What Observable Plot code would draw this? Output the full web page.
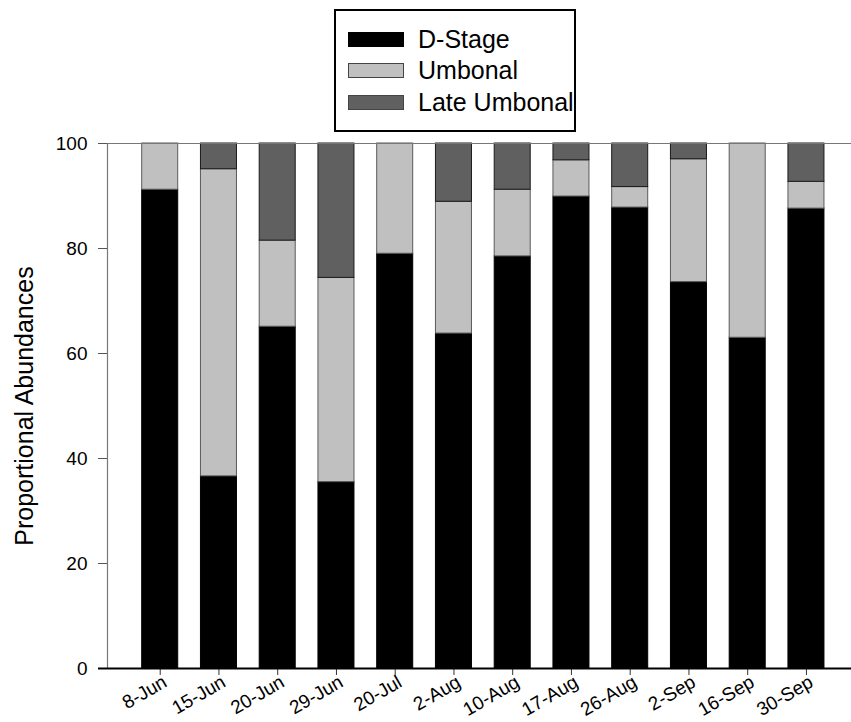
<!DOCTYPE html>
<html>
<head>
<meta charset="utf-8">
<script src="https://cdn.jsdelivr.net/npm/d3@7"></script>
<script src="https://cdn.jsdelivr.net/npm/@observablehq/plot@0.6"></script>
<style>
  html, body { margin: 0; padding: 0; background: white; }
  #wrap { position: relative; width: 851px; height: 722px; font-family: "Liberation Sans", Arial, sans-serif; }
  #legend { position: absolute; left: 334px; top: 9px; width: 238px; height: 119px; border: 2px solid black; background: white; }
  .row { position: absolute; left: 12px; height: 16px; display: flex; align-items: center; }
  .sw { width: 56px; height: 15px; box-sizing: border-box; }
  .lab { margin-left: 14px; font-size: 25px; line-height: 16px; color: black; white-space: nowrap; }
</style>
</head>
<body>
<div id="wrap"></div>
<script>
const dates = ["8-Jun","15-Jun","20-Jun","29-Jun","20-Jul","2-Aug","10-Aug","17-Aug","26-Aug","2-Sep","16-Sep","30-Sep"];
const series = ["D-Stage", "Umbonal", "Late Umbonal"];
const dStage      = [91.2, 36.6, 65.1, 35.5, 79.0, 63.8, 78.5, 89.9, 87.8, 73.6, 63.0, 87.6];
const umbonal     = [ 8.8, 58.5, 16.4, 38.9, 21.0, 25.1, 12.7,  6.9,  3.9, 23.4, 37.0,  5.1];
const lateUmbonal = [ 0.0,  4.9, 18.5, 25.6,  0.0, 11.1,  8.8,  3.2,  8.3,  3.0,  0.0,  7.3];
const yTicks = [0, 20, 40, 60, 80, 100];
const yLabel = "Proportional Abundances";

const fills = ["#000000", "#c0c0c0", "#606060"];
const strokes = ["#000000", "#5a5a5a", "#1a1a1a"];

const values = [dStage, umbonal, lateUmbonal];
// build stacked rows
const rows = series.map((s, si) => dates.map((d, i) => {
  let base = 0;
  for (let k = 0; k < si; k++) base += values[k][i];
  return {date: d, series: s, y1: base, y2: base + values[si][i]};
}).filter(r => r.y2 - r.y1 > 0));

const chart = Plot.plot({
  width: 851,
  height: 722,
  marginTop: 143,
  marginBottom: 54,
  marginLeft: 107,
  marginRight: 0,
  style: {fontFamily: "'Liberation Sans', Arial, sans-serif", fontSize: "18px", color: "black", background: "white"},
  x: {domain: dates, paddingInner: 0.387, paddingOuter: 0.5255, align: 0.562, round: false, label: null},
  y: {domain: [0, 100], label: null},
  marks: [
    ...rows.map((r, si) => Plot.barY(r, {x: "date", y1: "y1", y2: "y2", fill: fills[si], stroke: strokes[si], strokeWidth: 1})),
    Plot.ruleY([100], {stroke: "#777", strokeWidth: 1.2}),
    Plot.frame({anchor: "left", stroke: "#777", strokeWidth: 1.2}),
    Plot.axisY({ticks: yTicks, tickSize: 9, tickPadding: 11, stroke: "#555", fontSize: 19, label: null}),
    Plot.axisX({tickSize: 7, text: null, stroke: "#333", label: null}),
    Plot.axisX({tickSize: 0, tickPadding: 12, tickRotate: -30, dx: 5, dy: 0, fontSize: 19, label: null}),
    Plot.ruleY([0], {stroke: "black", strokeWidth: 2, insetLeft: -9}),
    Plot.text([yLabel], {frameAnchor: "left", rotate: -90, dx: -83, textAnchor: "middle", fontSize: 25, fill: "black"})
  ]
});
const wrap = document.getElementById("wrap");
wrap.appendChild(chart);

const legend = document.createElement("div");
legend.id = "legend";
const tops = [20, 51, 83];
series.forEach((s, i) => {
  const row = document.createElement("div");
  row.className = "row";
  row.style.top = tops[i] + "px";
  const sw = document.createElement("div");
  sw.className = "sw";
  sw.style.background = fills[i];
  sw.style.border = "1px solid " + (i === 0 ? "#000" : "#444");
  const lab = document.createElement("span");
  lab.className = "lab";
  lab.textContent = s;
  row.appendChild(sw);
  row.appendChild(lab);
  legend.appendChild(row);
});
wrap.appendChild(legend);
</script>
</body>
</html>
